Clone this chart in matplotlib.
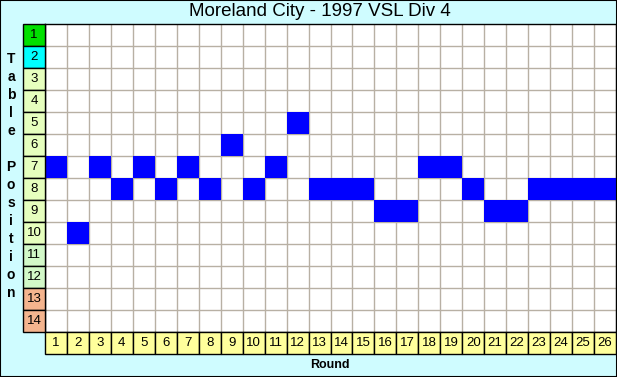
"""
Ladder position chart: Moreland City, 1997 VSL Div 4.
"""

import matplotlib.pyplot as plt
from matplotlib.patches import Rectangle

rounds = list(range(1, 27))
positions = [7, 10, 7, 8, 7, 8, 7, 8, 6, 8, 7, 5, 8, 8, 8, 9, 9, 7, 7, 8, 9, 9, 8, 8, 8, 8]
table_rows = list(range(1, 15))
row_colours = (["#00E000", "#00FFFF"] + ["#E6FFBE"] * 8
               + ["#D2F8C8"] * 2 + ["#F4B48E"] * 2)
title = "Moreland City - 1997 VSL Div 4"

W, H = 617, 377
BG = "#CFFCFF"
GRID = "#B8B0A4"

fig = plt.figure(figsize=(W / 100, H / 100), dpi=100, facecolor=BG)
plt.rcParams["font.family"] = ["Liberation Sans", "DejaVu Sans"]


def px_axes(x0, y0, x1, y1):
    return fig.add_axes([x0 / W, 1 - y1 / H, (x1 - x0) / W, (y1 - y0) / H])


# main grid
ax = px_axes(45, 24, 616, 332)
ax.set_facecolor("white")
ax.bar(rounds, 1, bottom=[p - 0.5 for p in positions], width=1.0,
       color="#0000FF", zorder=3)
ax.set_xlim(0.5, 26.5)
ax.set_ylim(14.5, 0.5)
ax.set_xticks([r + 0.5 for r in rounds[:-1]])
ax.set_yticks([r + 0.5 for r in table_rows[:-1]])
ax.grid(True, color=GRID, lw=1, zorder=1)
ax.tick_params(length=0, labelbottom=False, labelleft=False)
for s in ax.spines.values():
    s.set_color("black")
    s.set_linewidth(1)

# row label column
axl = px_axes(23, 24, 45, 332)
axl.set_xlim(0, 1)
axl.set_ylim(14.5, 0.5)
axl.axis("off")
for r, c in zip(table_rows, row_colours):
    axl.add_patch(Rectangle((0, r - 0.5), 1, 1, facecolor=c,
                            edgecolor="black", lw=1, clip_on=False))
    axl.text(0.5, r, str(r), ha="center", va="center", fontsize=9.5)

# round label row
axb = px_axes(45, 332, 616, 354)
axb.set_xlim(0.5, 26.5)
axb.set_ylim(0, 1)
axb.axis("off")
for r in rounds:
    axb.add_patch(Rectangle((r - 0.5, 0), 1, 1, facecolor="#FFFF9C",
                            edgecolor="black", lw=1, clip_on=False))
    axb.text(r, 0.5, str(r), ha="center", va="center", fontsize=9.5)

fig.text(320 / W, 1 - 12 / H, title, ha="center", va="center", fontsize=13.5)
fig.text(330 / W, 1 - 365 / H, "Round", ha="center", va="center",
         fontsize=9, fontweight="bold")
fig.text(11 / W, 1 - 176 / H, "\n".join("Table Position"), ha="center",
         va="center", fontsize=10, fontweight="bold", linespacing=1.36)

# outer border
fig.add_artist(Rectangle((0, 0), 1, 1, transform=fig.transFigure,
                         fill=False, edgecolor="black", lw=1.5))

fig.savefig("out.png", dpi=100, facecolor=BG)
